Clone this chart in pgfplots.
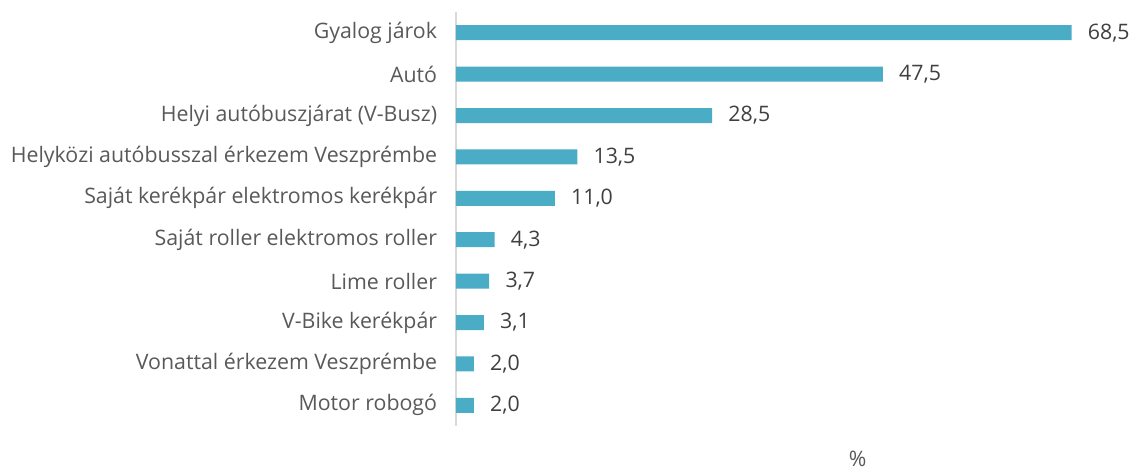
\documentclass[border=0pt]{standalone}
\usepackage{pgfplots}
\pgfplotsset{compat=1.18}
\usepackage{fontspec}
\setmainfont{Open Sans}
\definecolor{barc}{HTML}{4BACC6}
\definecolor{lab}{HTML}{595959}
\definecolor{val}{HTML}{404040}
\definecolor{axc}{HTML}{D9D9D9}
\begin{document}
\begin{tikzpicture}
\useasboundingbox (0pt,0pt) rectangle (849.75pt,-354pt);
\begin{axis}[
  at={(342pt,-9pt)}, anchor=north west,
  scale only axis, width=505.5pt, height=310.5pt,
  xmin=0, xmax=75, ymin=0.5, ymax=10.5, y dir=reverse,
  xbar, bar width=11.25pt,
  axis x line=none, axis y line*=left,
  y axis line style={draw=axc, line width=1.2pt, -},
  ytick={1,...,10},
  yticklabels={Gyalog járok,Autó,Helyi autóbuszjárat (V-Busz),Helyközi autóbusszal érkezem Veszprémbe,Saját kerékpár elektromos kerékpár,Saját roller elektromos roller,Lime roller,V-Bike kerékpár,Vonattal érkezem Veszprémbe,Motor robogó},
  major tick length=0pt,
  yticklabel style={anchor=east, inner sep=0pt, xshift=-14pt, text=lab, font=\fontsize{16}{19}\selectfont},
  nodes near coords,
  nodes near coords style={anchor=west, inner sep=0pt, xshift=12pt, text=val, font=\fontsize{16}{19}\selectfont,
    /pgf/number format/.cd, fixed, fixed zerofill, precision=1, use comma, assume math mode=true},
  point meta=explicit,
  clip=false,
]
\addplot[fill=barc, draw=none] coordinates {
  (68.5,1) [68.5]
  (47.5,2) [47.5]
  (28.5,3) [28.5]
  (13.5,4) [13.5]
  (11.0,5) [11.0]
  (4.3,6) [4.3]
  (3.7,7) [3.7]
  (3.1,8) [3.1]
  (2.0,9) [2.0]
  (2.0,10) [2.0]
};
\node[text=lab, font=\fontsize{16}{19}\selectfont] at (axis cs:44.7,11.3) {\%};
\end{axis}
\end{tikzpicture}
\end{document}
